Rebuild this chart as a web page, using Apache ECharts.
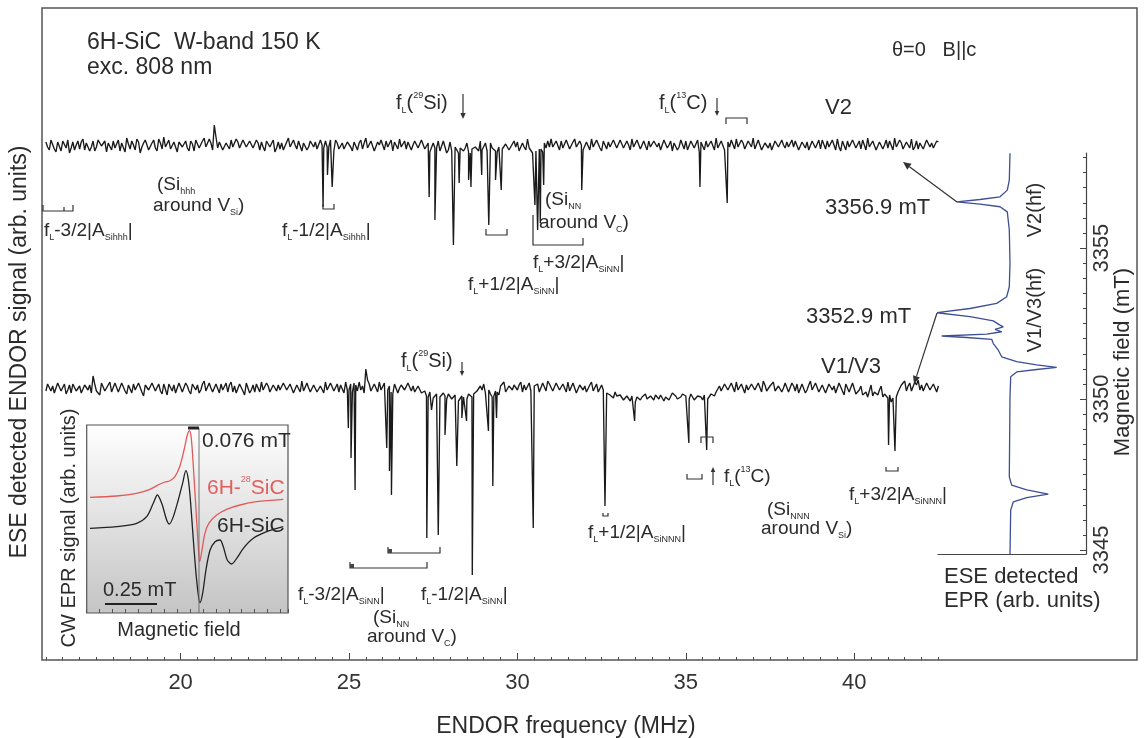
<!DOCTYPE html>
<html><head><meta charset="utf-8">
<script src="https://cdn.jsdelivr.net/npm/echarts@6/dist/echarts.min.js"></script>
<style>html,body{margin:0;padding:0;background:#fff}#c{width:1145px;height:738px}</style>
</head><body><div id="c"></div>
<script>
// ---------- DATA ----------
const FREQ_START = 16.0, FREQ_STEP = 0.1;   // ENDOR sampling grid (MHz); *_HALF arrays sit at +0.05
// V2 ENDOR trace: baseline noise (arb., 16.0 .. 42.5 MHz)
const V2_NOISE = [
 3,-5,6,-7,1,4,-3,-8,3,0,   -4,6,2,-6,4,-2,7,-3,-7,3,   4,-2,-6,3,7,-4,0,6,-8,2,
 3,-3,5,-6,2,8,-2,-4,3,-7,  5,0,-3,4,-6,3,-2,7,-4,2,    20,-3,4,-7,2,5,-4,3,-2,4,
 -3,6,-4,2,3,-6,4,0,-7,3,   2,-4,7,-3,0,4,-6,3,-2,6,    3,-3,0,4,-2,3,5,-4,2,-3,
 4,-6,3,2,-4,7,-2,3,-6,0,   3,4,-3,-6,2,6,-2,-4,3,0,    4,-2,3,-4,-7,2,-3,-6,4,-8,
 3,-7,-4,-3,-6,2,-8,-4,-3,4, -3,-6,2,-4,-7,-3,-6,3,-2,4, 3,-4,-2,6,-3,-7,-8,-4,2,4,
 6,-3,2,4,-4,3,-2,6,-3,0,   -4,3,6,-2,4,-6,2,3,-3,7,    -2,4,-3,0,6,-4,3,-6,2,4,
 -3,6,2,-4,3,0,-6,4,-2,3,   4,-3,6,-2,-7,3,4,-4,2,7,    -3,4,-6,-2,3,6,-4,2,-3,4,
 7,-2,3,-6,4,2,-3,6,-4,0,   3,-4,-2,4,-6,2,3,-3,6,-2,   -4,3,4,-3,0,6,-6,2,4,-3,
 6,-2,-4,3,7,-3,2,-6,4,0,   -3,4,7,-4,2,-6,3,6,-2,-4,   3,-3,4,2,-4,3
];
const V2_NOISE_HALF = [
 -2,5,-4,3,-6,2,5,-3,-5,4,  3,-5,4,-2,-6,5,-1,4,2,-5,   -3,5,2,-7,1,4,-5,3,-2,5,
 -5,2,-3,6,-4,-2,5,-6,1,3,  -2,4,-6,1,5,-3,4,-2,6,-5,   8,3,-5,2,-4,-2,6,-3,5,-2,
 4,-3,5,-5,-2,4,-2,5,-3,-4, -5,3,-2,5,-4,6,2,-5,4,-2,   -4,5,-3,-2,5,-6,2,-2,-4,3,
 -2,3,-5,5,2,-3,4,-6,3,5,   -5,-2,5,3,-4,-2,4,3,-5,4,   -3,5,-4,2,-5,-3,4,-6,-2,-5,
 -6,-2,-8,-5,-3,-7,-4,-2,-6,-5, 2,-5,-3,-6,-2,-4,1,-5,-3,-2, -6,2,-5,-3,-8,-6,-4,-7,-3,-2,
 -2,4,-5,-3,5,-4,3,-2,4,-5, 3,-5,-2,5,-3,4,-4,-2,5,-3,   5,-3,4,-5,-2,5,-4,4,-5,-2,
 4,-2,-5,5,-3,4,2,-5,5,-4,  -5,4,-3,5,3,-5,-2,4,-5,-3,   4,-5,3,5,-4,-2,5,-4,4,-2,
 -4,5,-5,2,-3,-5,4,-2,5,-3, -2,5,4,-5,3,-3,-5,4,-3,5,    5,-4,-2,5,-5,-2,4,-5,-2,5,
 -3,4,5,-5,-2,4,-5,3,-4,5,  4,-5,-2,5,-4,3,-3,-5,4,2,    -4,5,-2,-3,4
];
// V2 ENDOR lines: [frequency MHz, depth below baseline]
const V2_DIPS = [[24.23,62],[24.36,30],[24.50,42],[27.38,52],[27.55,75],[28.10,100],[28.27,38],
 [28.55,35],[28.62,42],[28.94,30],[29.15,80],[29.35,35],[29.52,45],[30.52,60],[30.60,85],
 [30.68,78],[30.78,40],[31.91,45],[35.42,42],[36.23,58]];
// V1/V3 ENDOR trace: baseline noise
const V13_NOISE = [
 -3,6,2,-4,7,-2,-6,3,4,-3,  2,-6,4,3,12,-3,-7,4,-2,6,   -4,3,-2,7,-6,2,4,-3,6,-8,
 3,-4,6,-2,-3,4,-7,2,3,-4,  6,-3,2,-6,4,3,-2,7,-4,0,    -6,3,4,-2,-4,6,2,-3,3,-7,
 4,-2,-4,3,6,-3,2,-6,4,3,   -3,6,-2,4,-4,2,7,-3,0,-6,   3,-4,2,6,-3,4,-2,-4,3,6,
 -2,-4,3,6,2,19,4,-3,2,6,   -3,4,2,-6,3,0,4,-4,6,2,     -3,4,-6,-8,-4,-10,-6,-9,-5,-11,
 -8,-10,-7,-12,-9,-11,-8,-6,-3,2, 4,-3,-6,-8,-4,2,6,-3,4,3, -2,6,3,-4,-3,2,4,-3,6,7,
 3,-2,4,-4,2,6,-3,3,-6,4,   2,-3,6,-2,-4,3,0,-6,-8,-4,  -10,-6,-12,-9,-8,-14,-11,-9,-6,-10,
 -10,-7,-11,-6,-9,-12,-5,-8,-10,-6, -8,-11,-7,-10,-6,-12,-8,-13,-7,-4, 2,-3,4,-2,3,6,-4,2,3,-3,
 4,-2,3,7,-3,2,6,-4,3,0,    6,-3,2,4,-6,3,-2,7,-3,4,    -2,4,-6,3,2,-4,6,-7,3,-3,
 4,-8,2,-6,-9,3,-4,-7,2,-6, -10,-14,-8,-4,3,7,2,-3,6,8, 3,-2,6,-3,4,2
];
const V13_NOISE_HALF = [
 4,-3,-5,5,-3,4,-2,-5,4,-2, -5,3,-2,-5,4,-2,5,-3,3,-4,  5,-4,5,-3,3,-5,-2,5,-4,3,
 -2,5,-3,4,-6,2,4,-3,-5,5,  -4,5,-3,4,-2,-5,4,-3,5,-4,  4,-5,-2,5,3,-4,-5,4,-3,5,
 -5,3,4,-4,-2,5,-4,3,-3,-2, 5,-2,4,-5,3,-4,-3,5,-4,3,   -4,2,-5,-2,5,-3,4,3,-5,-2,
 4,5,-3,-2,-5,8,-3,4,-4,-2, 5,-2,-4,4,-5,3,-2,5,-3,-4,  2,-5,-3,-9,-6,-12,-7,-10,-8,-6,
 -11,-7,-13,-8,-10,-6,-9,-4,-5,-2, -5,-2,-9,-3,-7,3,-4,2,-2,5, 3,-4,-2,5,-5,3,-4,5,-3,4,
 -3,5,-2,4,-4,-3,5,-5,3,-2, -4,3,-3,4,-6,-2,-5,-7,-10,-8, -7,-12,-8,-13,-10,-9,-12,-7,-11,-8,
 -12,-9,-7,-13,-8,-10,-6,-11,-9,-7, -10,-6,-12,-8,-9,-7,-11,-6,-8,-3, -3,4,-2,5,-4,-2,4,-5,-2,4,
 -2,5,-4,3,-5,4,-3,2,-4,5,  -4,5,-3,-5,4,-5,3,-2,5,-4,  3,-5,4,-2,-5,5,-3,4,-4,5,
 -6,-2,-7,-4,-3,-8,-6,-2,-9,-5, -7,-10,-9,-2,4,-3,5,-4,3,-2, -3,5,-2,4,-4
];
const V13_DIPS = [[24.98,40],[25.06,70],[25.18,102],[26.12,60],[26.20,83],[26.26,107],[27.31,150],
 [27.45,22],[27.65,147],[27.85,47],[28.20,78],[28.35,30],[28.49,33],[28.66,187],[29.14,43],
 [29.27,98],[29.38,30],[30.47,140],[32.60,118],[33.48,33],[35.09,55],[35.62,62],[41.02,57],[41.21,63]];
// ESE detected EPR (right panel): field (mT) and signal (arb.)
const EPR_FIELD = [3358.14,3357.25,3356.92,3356.70,3356.61,3356.53,3356.46,3356.37,3356.20,3355.60,
 3354.49,3353.72,3353.39,3353.17,3353.00,3352.86,3352.73,3352.59,3352.45,3352.39,3352.31,3352.23,
 3352.15,3352.09,3352.04,3351.98,3351.84,3351.62,3351.40,3351.24,3351.13,3351.05,3350.98,3350.90,
 3350.74,3350.08,3347.43,3347.15,3346.99,3346.85,3346.74,3346.60,3346.32,3344.87];
const EPR_SIGNAL = [0,-0.7,-2.7,-10,-30,-53.3,-30,-10,-2.7,-0.7,0,-0.7,-3.3,-13.3,-40,-73.3,-40,
 -16.7,-10,-6.7,-15,-8.3,-23.3,-68.3,-43.3,-18.3,-16.7,-11.7,-8.3,6.7,26.7,46.7,26.7,6.7,0.7,0,
 -0.7,1.7,16.7,38.3,16.7,3.3,0.7,0];
// Inset CW EPR: relative field (mT) and signal (arb.)
const INSET_RED_X = [0.016,0.145,0.242,0.306,0.355,0.379,0.403,0.427,0.451,0.471,0.487,0.497,0.506,
 0.516,0.527,0.537,0.547,0.558,0.572,0.593,0.629,0.677,0.742,0.822,0.951];
const INSET_RED_Y = [119.7,121,123.7,127.7,133,135,136.3,140.3,151,167,182,186.3,178.7,150.3,113.7,
 80.3,55.3,67,83.7,94.3,102,107.7,112,115.3,117.7];
const INSET_BLACK_X = [0.016,0.145,0.242,0.290,0.322,0.342,0.363,0.387,0.400,0.419,0.443,0.464,0.480,
 0.492,0.503,0.516,0.532,0.548,0.561,0.577,0.597,0.621,0.645,0.661,0.680,0.701,0.726,0.758,0.806,0.871,0.951];
const INSET_BLACK_Y = [88.7,90.3,93.7,100.3,113.7,122,113.7,97,93,100.3,117,133.7,146.3,137,113.7,77,
 37,14.3,23.7,47,67,75.3,77,70.3,57,53,58.7,68.7,78.7,85.3,90.3];
// tick labels
const X_TICK_LABELS = [20,25,30,35,40];
const EPR_TICK_LABELS = [3345,3350,3355];
const EPR_MINOR_TICKS = [3345,3345.5,3346,3346.5,3347,3347.5,3348,3348.5,3349,3349.5,3350,3350.5,
 3351,3351.5,3352,3352.5,3353,3353.5,3354,3354.5,3355,3355.5,3356,3356.5,3357,3357.5,3358];

// ---------- BUILD ----------
const V2_OFFSET = 515, V13_OFFSET = 272;
function buildTrace(noise, half, dips, offset) {
  const pts = noise.map((v, i) => [Math.round((FREQ_START + i * FREQ_STEP) * 100) / 100, offset + v]);
  half.forEach((v, i) => pts.push([Math.round((FREQ_START + FREQ_STEP / 2 + i * FREQ_STEP) * 100) / 100, offset + v]));
  dips.forEach(d => pts.push([d[0], offset - d[1]]));
  pts.sort((a, b) => a[0] - b[0]);
  return pts;
}
const FONT = '"Liberation Sans", Arial, Helvetica, sans-serif';
const INK = '#2b2b2b';
function txt(x, y, text, size, opt) {
  opt = opt || {};
  const color = opt.color || INK;
  const sub = Math.max(8, Math.round(size * 0.45));
  return {type: 'text', x: x, y: y, rotation: opt.rot || 0, z: 20, silent: true,
    style: {text: text, fill: color, fontSize: size, fontFamily: FONT, textAlign: opt.align || 'left',
      textVerticalAlign: 'middle', verticalAlign: 'middle', lineHeight: size + 4,
      rich: {
        s: {fontSize: sub, fontFamily: FONT, fill: color, verticalAlign: 'bottom', lineHeight: sub + 2},
        p: {fontSize: sub, fontFamily: FONT, fill: color, verticalAlign: 'top', lineHeight: sub + 2}
      }}};
}
function pl(points, w, color) {
  return {type: 'polyline', z: 20, silent: true, shape: {points: points},
    style: {stroke: color || '#333', lineWidth: w || 1.2, fill: null}};
}
function bUp(x1, x2, y, h) { return pl([[x1, y - h], [x1, y], [x2, y], [x2, y - h]], 1.2); }
function bDown(x1, x2, y, h) { return pl([[x1, y + h], [x1, y], [x2, y], [x2, y + h]], 1.2); }
function sq(x, y) { return {type: 'rect', z: 20, silent: true, shape: {x: x - 2, y: y - 4, width: 4, height: 4}, style: {fill: '#444'}}; }
function arrow(x1, y1, x2, y2, s) {
  const a = Math.atan2(y2 - y1, x2 - x1), w = s * 0.45;
  const bx = x2 - s * Math.cos(a), by = y2 - s * Math.sin(a);
  return [pl([[x1, y1], [bx, by]], 1.2),
    {type: 'polygon', z: 20, silent: true,
     shape: {points: [[x2, y2], [bx + w * Math.sin(a), by - w * Math.cos(a)], [bx - w * Math.sin(a), by + w * Math.cos(a)]]},
     style: {fill: '#333'}}];
}

const G = [];
G.push({type: 'rect', z: 15, silent: true, shape: {x: 42, y: 8, width: 1095, height: 652}, style: {stroke: '#555', lineWidth: 1.5, fill: null}});
G.push(txt(87, 43, '6H-SiC  W-band 150 K', 23));
G.push(txt(87, 68, 'exc. 808 nm', 23));
G.push(txt(892, 50, 'θ=0   B||c', 20));
G.push(txt(566, 727, 'ENDOR frequency (MHz)', 23, {align: 'center'}));
G.push(txt(20, 352, 'ESE detected ENDOR signal (arb. units)', 23, {align: 'center', rot: Math.PI / 2}));
G.push(txt(1123, 362, 'Magnetic field (mT)', 22, {align: 'center', rot: Math.PI / 2}));
// V2 annotations
G.push(txt(396, 103, 'f{s|L}({p|29}Si)', 20));
G.push(...arrow(463, 94, 463, 119, 6));
G.push(txt(659, 103, 'f{s|L}({p|13}C)', 20));
G.push(...arrow(717, 98, 717, 116, 5));
G.push(bDown(726, 747, 118, 6));
G.push(txt(825, 108, 'V2', 22));
G.push(txt(825, 208, '3356.9 mT', 22));
G.push(...arrow(957, 202, 903, 162, 8));
G.push(txt(157, 185, '(Si{s|hhh}', 19));
G.push(txt(153, 206, 'around V{s|Si})', 19));
G.push(bUp(43, 73, 211, 6)); G.push(pl([[64, 211], [64, 207]], 1.2));
G.push(txt(44, 231, 'f{s|L}-3/2|A{s|Sihhh}|', 19));
G.push(bUp(323, 334, 209, 5));
G.push(txt(282, 231, 'f{s|L}-1/2|A{s|Sihhh}|', 19));
G.push(bUp(486, 507, 235, 6));
G.push(txt(468, 285, 'f{s|L}+1/2|A{s|SiNN}|', 19));
G.push(pl([[533, 215], [533, 245], [583, 245], [583, 238]], 1.2));
G.push(txt(533, 263, 'f{s|L}+3/2|A{s|SiNN}|', 19));
G.push(txt(545, 200, '(Si{s|NN}', 19));
G.push(txt(539, 223, 'around V{s|C})', 19));
// V1/V3 annotations
G.push(txt(401, 361, 'f{s|L}({p|29}Si)', 20));
G.push(...arrow(462, 362, 462, 376, 5));
G.push(txt(821, 367, 'V1/V3', 22));
G.push(txt(806, 317, '3352.9 mT', 22));
G.push(...arrow(937, 313, 914, 384, 8));
G.push(bUp(388, 440, 553, 6)); G.push(sq(390, 553));
G.push(bUp(350, 427, 568, 6)); G.push(sq(352, 568));
G.push(txt(298, 595, 'f{s|L}-3/2|A{s|SiNN}|', 19));
G.push(txt(421, 595, 'f{s|L}-1/2|A{s|SiNN}|', 19));
G.push(txt(373, 618, '(Si{s|NN}', 19));
G.push(txt(367, 637, 'around V{s|C})', 19));
G.push(bUp(603, 608, 516, 3));
G.push(txt(588, 533, 'f{s|L}+1/2|A{s|SiNNN}|', 19));
G.push(bUp(687, 702, 479, 5));
G.push(...arrow(713, 485, 713, 467, 5));
G.push(txt(724, 477, 'f{s|L}({p|13}C)', 19));
G.push(bDown(701, 713, 437, 6));
G.push(txt(767, 510, '(Si{s|NNN}', 19));
G.push(txt(761, 529, 'around V{s|Si})', 19));
G.push(bUp(886, 898, 471, 4));
G.push(txt(849, 495, 'f{s|L}+3/2|A{s|SiNNN}|', 19));
// EPR panel labels
G.push(txt(1035, 210, 'V2(hf)', 20, {align: 'center', rot: Math.PI / 2}));
G.push(txt(1035, 310, 'V1/V3(hf)', 20, {align: 'center', rot: Math.PI / 2}));
G.push(txt(944, 577, 'ESE detected', 22));
G.push(txt(944, 601, 'EPR (arb. units)', 22));
// inset labels
G.push(txt(69, 528, 'CW EPR signal (arb. units)', 20, {align: 'center', rot: Math.PI / 2}));
G.push(txt(179, 630, 'Magnetic field', 20, {align: 'center'}));
G.push(txt(202, 441, '0.076 mT', 21));
G.push(pl([[199, 428], [199, 613]], 0.9, '#666'));
G.push(pl([[188, 428], [199, 428]], 3, '#222'));
G.push(txt(207, 488, '6H-{p|28}SiC', 21, {color: '#e06060'}));
G.push(txt(217, 526, '6H-SiC', 21));
G.push(txt(103, 590, '0.25 mT', 20));
G.push(pl([[105, 604], [157, 604]], 2, '#222'));

const axisFont = {fontSize: 22, color: '#333', fontFamily: FONT};
const option = {
  animation: false,
  backgroundColor: '#fff',
  grid: [
    {left: 45.9, top: 9, width: 892.5, height: 651},
    {left: 938, top: 153, width: 148, height: 401},
    {left: 86.7, top: 425, width: 201.3, height: 188, show: true, borderColor: '#555', borderWidth: 1.2,
     backgroundColor: {type: 'linear', x: 0, y: 0, x2: 0, y2: 1,
       colorStops: [{offset: 0, color: '#ffffff'}, {offset: 1, color: '#c4c4c4'}]}}
  ],
  xAxis: [
    {gridIndex: 0, type: 'value', min: 16, max: 42.5, interval: 0.5, position: 'bottom',
     axisLine: {show: false}, axisTick: {inside: true, length: 3, lineStyle: {color: '#444'}},
     axisLabel: Object.assign({customValues: X_TICK_LABELS, margin: 12}, axisFont), splitLine: {show: false}},
    {gridIndex: 0, type: 'value', min: 16, max: 42.5, position: 'bottom',
     axisLine: {show: false}, axisTick: {inside: true, length: 7, customValues: X_TICK_LABELS, lineStyle: {color: '#444'}},
     axisLabel: {show: false}, splitLine: {show: false}},
    {gridIndex: 1, type: 'value', min: -72, max: 76, position: 'bottom',
     axisLine: {show: true, onZero: false, lineStyle: {color: '#444', width: 1.2}}, axisTick: {show: false},
     axisLabel: {show: false}, splitLine: {show: false}},
    {gridIndex: 2, type: 'value', min: 0, max: 0.974, interval: 0.0625, position: 'bottom',
     axisLine: {show: false, onZero: false}, axisTick: {inside: true, length: 4, lineStyle: {color: '#555'}},
     axisLabel: {show: false}, splitLine: {show: false}}
  ],
  yAxis: [
    {gridIndex: 0, type: 'value', min: 0, max: 651, show: false},
    {gridIndex: 1, type: 'value', min: 3344.87, max: 3358.15, position: 'right',
     axisLine: {show: true, onZero: false, lineStyle: {color: '#444', width: 1.2}},
     axisTick: {inside: true, length: 3, customValues: EPR_MINOR_TICKS, lineStyle: {color: '#444'}},
     axisLabel: Object.assign({customValues: EPR_TICK_LABELS, rotate: 90, margin: 5,
       formatter: v => String(Math.round(v))}, axisFont),
     splitLine: {show: false}},
    {gridIndex: 1, type: 'value', min: 3344.87, max: 3358.15, position: 'right',
     axisLine: {show: false, onZero: false}, axisTick: {inside: true, length: 6, customValues: EPR_TICK_LABELS, lineStyle: {color: '#444'}},
     axisLabel: {show: false}, splitLine: {show: false}},
    {gridIndex: 2, type: 'value', min: 4, max: 192, show: false}
  ],
  series: [
    {name: 'V2', type: 'line', xAxisIndex: 0, yAxisIndex: 0, showSymbol: false, symbol: 'none',
     data: buildTrace(V2_NOISE, V2_NOISE_HALF, V2_DIPS, V2_OFFSET), lineStyle: {color: '#1a1a1a', width: 1.35}},
    {name: 'V1/V3', type: 'line', xAxisIndex: 0, yAxisIndex: 0, showSymbol: false, symbol: 'none',
     data: buildTrace(V13_NOISE, V13_NOISE_HALF, V13_DIPS, V13_OFFSET), lineStyle: {color: '#1a1a1a', width: 1.35}},
    {name: 'EPR', type: 'line', xAxisIndex: 2, yAxisIndex: 1, showSymbol: false, symbol: 'none',
     data: EPR_SIGNAL.map((v, i) => [v, EPR_FIELD[i]]), lineStyle: {color: '#3d4f95', width: 1.3}},
    {name: '6H-28SiC', type: 'line', xAxisIndex: 3, yAxisIndex: 3, showSymbol: false, symbol: 'none', smooth: 0.3,
     data: INSET_RED_X.map((x, i) => [x, INSET_RED_Y[i]]), lineStyle: {color: '#e05a5a', width: 1.3}},
    {name: '6H-SiC', type: 'line', xAxisIndex: 3, yAxisIndex: 3, showSymbol: false, symbol: 'none', smooth: 0.3,
     data: INSET_BLACK_X.map((x, i) => [x, INSET_BLACK_Y[i]]), lineStyle: {color: '#222', width: 1.3}}
  ],
  graphic: {elements: G}
};
const chart = echarts.init(document.getElementById('c'), null, {renderer: 'canvas'});
chart.setOption(option);
</script></body></html>
